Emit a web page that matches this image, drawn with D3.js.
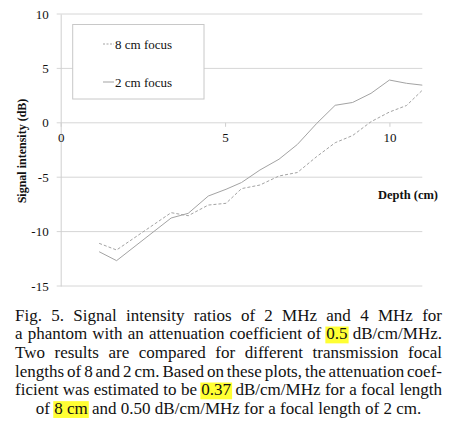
<!DOCTYPE html>
<html><head><meta charset="utf-8">
<script src="https://cdnjs.cloudflare.com/ajax/libs/d3/7.8.5/d3.min.js"></script>
<style>
html,body{margin:0;padding:0;background:#fff;}
svg{display:block;}
</style></head>
<body>
<svg id="c" width="466" height="428"></svg>
<script>
// ---- data ----
const depth  = [1.17, 1.70, 3.36, 3.88, 4.49, 5.03, 5.50, 6.06, 6.64, 7.20, 7.79, 8.35, 8.88, 9.44, 10.00, 10.52, 11.00];
const focus8 = [-11.08, -11.69, -8.26, -8.54, -7.56, -7.40, -6.05, -5.72, -4.89, -4.57, -3.10, -1.83, -1.17, 0.10, 0.99, 1.59, 2.99];
const focus2 = [-11.85, -12.67, -8.75, -8.32, -6.73, -6.11, -5.49, -4.34, -3.35, -1.99, -0.05, 1.61, 1.87, 2.71, 3.93, 3.63, 3.46];
const xTicks = [0, 5, 10];
const yTicks = [-15, -10, -5, 0, 5, 10];
const seriesNames = ["8 cm focus", "2 cm focus"];
const captionLines = [
  {words: ["Fig.", "5.", "Signal", "intensity", "ratios", "of", "2", "MHz", "and", "4", "MHz", "for"], justify: true},
  {words: ["a", "phantom", "with", "an", "attenuation", "coefficient", "of", "[0.5]", "dB/cm/MHz."], justify: true},
  {words: ["Two", "results", "are", "compared", "for", "different", "transmission", "focal"], justify: true},
  {words: ["lengths", "of", "8", "and", "2", "cm.", "Based", "on", "these", "plots,", "the", "attenuation", "coef-"], justify: true},
  {words: ["ficient", "was", "estimated", "to", "be", "[0.37]", "dB/cm/MHz", "for", "a", "focal", "length"], justify: true},
  {words: ["of", "[8 cm]", "and", "0.50", "dB/cm/MHz", "for", "a", "focal", "length", "of", "2", "cm."], justify: false}
];

const svg = d3.select("#c");
const serif = "'Liberation Serif','Times New Roman',serif";

const x = d3.scaleLinear().domain([0, 11]).range([60.7, 422.3]);
const y = d3.scaleLinear().domain([-15, 10]).range([286, 14]);

// gridlines
svg.append("g").selectAll("line").data(yTicks).join("line")
  .attr("x1", x(0) - 4).attr("x2", x(11))
  .attr("y1", d => y(d)).attr("y2", d => y(d))
  .attr("stroke", "#d6d6d6").attr("stroke-width", 1);

// y axis
const yAxis = svg.append("g").attr("transform", `translate(${x(0)},0)`)
  .call(d3.axisLeft(y).tickValues(yTicks).tickSize(0).tickSizeOuter(0).tickPadding(12).tickFormat(d => String(d)));
yAxis.attr("font-family", serif).attr("font-size", 13);
yAxis.select(".domain").attr("stroke", "#cfcfcf");
yAxis.selectAll("text").attr("fill", "#111");

// x axis (at y = 0)
const xAxis = svg.append("g").attr("transform", `translate(0,${y(0)})`)
  .call(d3.axisBottom(x).tickValues(xTicks).tickSize(4).tickSizeOuter(0).tickPadding(6).tickFormat(d => String(d)));
xAxis.attr("font-family", serif).attr("font-size", 13);
xAxis.select(".domain").remove();
xAxis.selectAll("line").attr("stroke", "#cfcfcf");
xAxis.selectAll("text").attr("fill", "#111");

// series
const line = d3.line().x(d => x(d[0])).y(d => y(d[1]));
svg.append("path").datum(depth.map((d, i) => [d, focus8[i]]))
  .attr("d", line).attr("fill", "none").attr("stroke", "#a3a3a3").attr("stroke-width", 1)
  .attr("stroke-dasharray", "3,2");
svg.append("path").datum(depth.map((d, i) => [d, focus2[i]]))
  .attr("d", line).attr("fill", "none").attr("stroke", "#a3a3a3").attr("stroke-width", 1);

// axis titles
svg.append("text").attr("transform", "translate(26,151) rotate(-90)")
  .attr("text-anchor", "middle").attr("font-family", serif).attr("font-weight", "bold")
  .attr("font-size", 12).attr("fill", "#111").text("Signal intensity (dB)");
svg.append("text").attr("x", 408).attr("y", 199)
  .attr("text-anchor", "middle").attr("font-family", serif).attr("font-weight", "bold")
  .attr("font-size", 12.5).attr("fill", "#111").text("Depth (cm)");

// legend
const lg = svg.append("g");
lg.append("rect").attr("x", 72.7).attr("y", 24.5).attr("width", 131.3).attr("height", 74.5)
  .attr("fill", "#fff").attr("stroke", "#c8c8c8").attr("stroke-width", 1);
const legendY = [44, 82];
seriesNames.forEach((name, i) => {
  lg.append("line").attr("x1", 103).attr("x2", 114).attr("y1", legendY[i]).attr("y2", legendY[i])
    .attr("stroke", "#a3a3a3").attr("stroke-width", 1).attr("stroke-dasharray", i === 0 ? "2,1.5" : null);
  lg.append("text").attr("x", 115).attr("y", legendY[i] + 4.5)
    .attr("font-family", serif).attr("font-size", 13).attr("fill", "#111").text(name);
});

// caption
const capLeft = 15, capRight = 442, capTop = 320.7, capStep = 18.65, capSize = 17;
const cap = svg.append("g").attr("font-family", serif).attr("font-size", capSize).attr("fill", "#111");
captionLines.forEach((ln, li) => {
  const by = capTop + li * capStep;
  const g = cap.append("g");
  const items = ln.words.map(w => {
    const hl = w.startsWith("[");
    const txt = hl ? w.slice(1, -1) : w;
    const t = g.append("text").attr("y", by).text(txt);
    return {t, hl, w: t.node().getComputedTextLength()};
  });
  const total = d3.sum(items, d => d.w);
  const spaceW = capSize * 0.25;
  let gap, start;
  if (ln.justify) {
    gap = (capRight - capLeft - total) / (items.length - 1);
    start = capLeft;
  } else {
    gap = spaceW;
    const full = total + gap * (items.length - 1);
    start = (capLeft + capRight) / 2 - full / 2;
  }
  let cx = start;
  items.forEach(it => {
    if (it.hl) {
      g.insert("rect", "text").attr("x", cx - 1).attr("y", by - 12.8)
        .attr("width", it.w + 2).attr("height", 16.8).attr("fill", "#ffff33");
    }
    it.t.attr("x", cx);
    cx += it.w + gap;
  });
});
</script>
</body></html>
